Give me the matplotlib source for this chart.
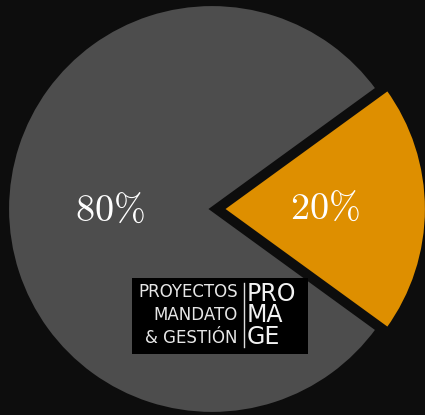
import matplotlib.pyplot as plt
from matplotlib.patches import Rectangle

# Data
shares = [80, 20]
slice_colors = ['#4d4d4d', '#de8f00']

logo_left = ['PROYECTOS', 'MANDATO', '& GESTIÓN']
logo_right = ['PRO', 'MA', 'GE']

bg = '#0d0d0d'
plt.rcParams['mathtext.fontset'] = 'cm'

fig = plt.figure(figsize=(4.25, 4.15), dpi=100, facecolor=bg)
ax = fig.add_axes([0, 0, 1, 1])
ax.set_facecolor(bg)

# Pie (axes in pixel-like units, y up); explode is in data units here
pull = 10
wedges, texts, autotexts = ax.pie(
    shares, colors=slice_colors, explode=[0, pull], startangle=36,
    center=(212, 206), radius=205, pctdistance=0.5,
    autopct=lambda p: r'$%d\%%$' % round(p),
    wedgeprops=dict(edgecolor=bg, linewidth=3),
    textprops=dict(color='white', fontsize=27.5))
autotexts[0].set_y(autotexts[0].get_position()[1] - 2)
ax.set_xlim(0, 425)
ax.set_ylim(0, 415)
ax.set_aspect('equal')
ax.axis('off')

# Logo box
ax.add_patch(Rectangle((132, 61), 176, 76, facecolor='black', edgecolor='none', zorder=5))
ax.plot([244, 244], [68, 132], color='#dddddd', lw=1, zorder=6)
for i, (l, r) in enumerate(zip(logo_left, logo_right)):
    ax.text(238, 123 - i * 23, l, ha='right', va='center', color='#e6e6e6',
            fontsize=12, family='DejaVu Sans', zorder=6)
    ax.text(247, 121 - i * 21.5, r, ha='left', va='center', color='#f2f2f2',
            fontsize=17, family='DejaVu Sans', zorder=6)

plt.savefig('out.png', dpi=100, facecolor=bg)
